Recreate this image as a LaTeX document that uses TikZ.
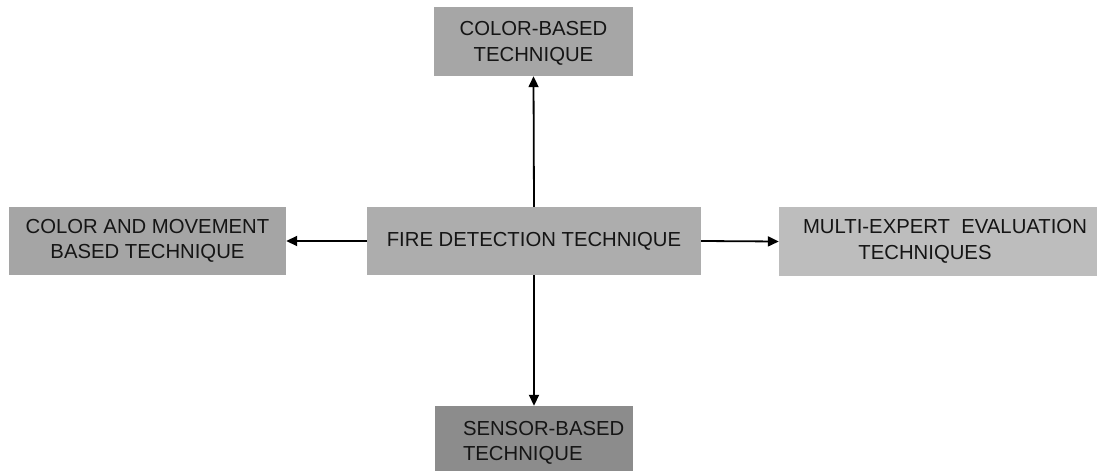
\documentclass[tikz,border=0pt]{standalone}
\usepackage{fontspec}
\setmainfont{Liberation Sans}
\usetikzlibrary{arrows.meta}
\definecolor{txt}{HTML}{151515}
\definecolor{gtop}{HTML}{A6A6A6}
\definecolor{gleft}{HTML}{A5A5A5}
\definecolor{gmid}{HTML}{ADADAD}
\definecolor{gright}{HTML}{BDBDBD}
\definecolor{gbot}{HTML}{8C8C8C}
\tikzset{
  box/.style={rectangle, inner sep=0pt, text=txt, align=center,
    font=\fontsize{20.3}{25.5}\selectfont},
  conn/.style={line width=1.8pt, black, -{Triangle[length=11pt,width=10pt]}}
}
\begin{document}
\begin{tikzpicture}[x=1pt,y=-1pt]
\useasboundingbox (0,0) rectangle (1101,471);
\clip (0,0) rectangle (1101,471);
\node[box, fill=gmid, minimum width=334pt, minimum height=68pt] (mid) at (534,241) {FIRE DETECTION TECHNIQUE};
\node[box, fill=gtop, minimum width=199pt, minimum height=69pt, text depth=-1pt] (top) at (533.5,41.5) {COLOR-BASED\\TECHNIQUE};
\node[box, fill=gleft, minimum width=277pt, minimum height=68pt] (left) at (147.5,241) {COLOR AND MOVEMENT\\BASED TECHNIQUE};
\node[box, fill=gright, minimum width=318pt, minimum height=69pt] (right) at (938,241.5) {\hspace*{14pt}MULTI-EXPERT\ \ EVALUATION\\TECHNIQUES\hspace*{26pt}};
\node[box, fill=gbot, align=left, text width=198pt, minimum width=198pt, minimum height=74pt] (bot) at (534,443) {\hspace*{28pt}SENSOR-BASED\\\hspace*{28pt}TECHNIQUE};
\draw[conn] (mid.north) -- (top.south);
\draw[conn] (mid.south) -- (bot.north);
\draw[conn] (mid.west) -- (left.east);
\draw[conn] (mid.east) -- (right.west);
\end{tikzpicture}
\end{document}
